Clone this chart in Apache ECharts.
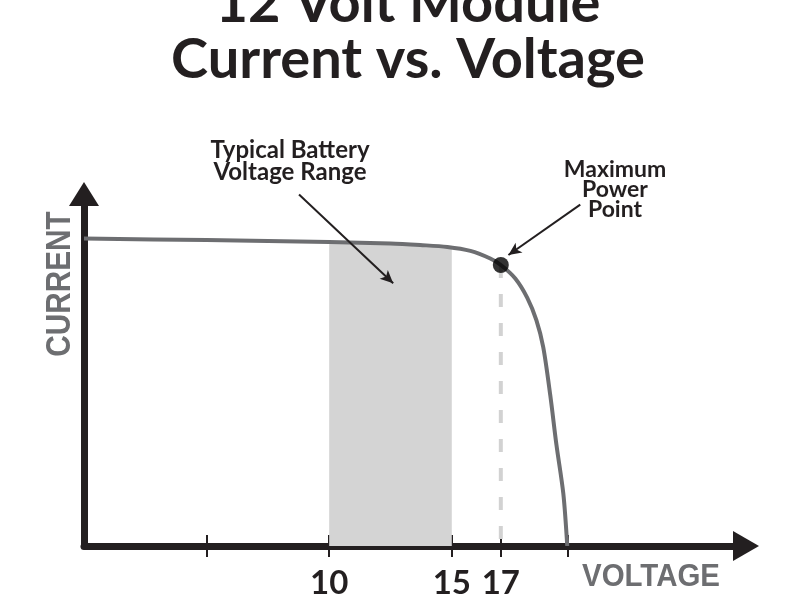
<!DOCTYPE html>
<html>
<head>
<meta charset="utf-8">
<script src="https://cdn.jsdelivr.net/npm/echarts@6/dist/echarts.min.js"></script>
<style>html,body{margin:0;padding:0;background:#fff}#c{width:800px;height:600px}</style>
</head>
<body>
<div id="c"></div>
<script>
// Data (voltage in V, current in A)
const voltage = [0, 5, 10, 12.5, 13.71, 14.82, 15.76, 16.57, 17, 17.59, 18.08, 18.45, 18.73, 19.02, 19.27, 19.55, 19.71];
const current = [5.24, 5.215, 5.18, 5.156, 5.13, 5.098, 5.03, 4.9, 4.79, 4.56, 4.23, 3.85, 3.39, 2.56, 1.72, 0.89, 0];
const batteryRange = [10, 15];
const batteryRangeTopCurrent = [5.18, 5.09];
const mppVoltage = 17;
const mppCurrent = 4.79;
const tickValues = [5, 10, 15, 17, 19.71];
const tickLabels = [10, 15, 17];

const curve = voltage.map((v, i) => [v, current[i]]);
const shade = curve.filter(p => p[0] > batteryRange[0] && p[0] < batteryRange[1]);
shade.unshift([batteryRange[0], batteryRangeTopCurrent[0]]);
shade.push([batteryRange[1], batteryRangeTopCurrent[1]]);

const dark = '#231f20';
const grey = '#6d6e71';
const font = 'Lato';

const chart = echarts.init(document.getElementById('c'));
chart.setOption({
  animation: false,
  title: {
    text: '12 Volt Module\nCurrent vs. Voltage',
    left: 403, top: -29, textAlign: 'center',
    textStyle: { fontSize: 56, fontWeight: 'bold', fontFamily: font, lineHeight: 56, color: dark }
  },
  grid: { left: 84, right: 54, top: 194, bottom: 47 },
  xAxis: [{
    type: 'value', min: 0, max: 27,
    splitLine: { show: false },
    axisLine: { lineStyle: { color: dark, width: 7 }, symbol: ['none', 'triangle'], symbolSize: [30, 26] },
    axisTick: { show: true, inside: false, length: 11, lineStyle: { color: dark, width: 2 }, customValues: tickValues },
    axisLabel: { customValues: tickLabels, margin: 21, fontSize: 33, fontWeight: 'bold', fontFamily: font, color: dark }
  }, {
    type: 'value', min: 0, max: 27, position: 'bottom',
    splitLine: { show: false },
    axisLine: { show: false },
    axisTick: { show: true, inside: true, length: 11, lineStyle: { color: dark, width: 2 }, customValues: tickValues },
    axisLabel: { show: false }
  }],
  yAxis: {
    type: 'value', min: 0, max: 6,
    splitLine: { show: false },
    axisLine: { lineStyle: { color: dark, width: 7 }, symbol: ['none', 'triangle'], symbolSize: [30, 24] },
    axisTick: { show: false },
    axisLabel: { show: false }
  },
  graphic: [
    { type: 'text', x: 290, y: 161, style: { text: 'Typical Battery\nVoltage Range', font: 'bold 24px ' + font, fill: dark, align: 'center', verticalAlign: 'middle', lineHeight: 22 } },
    { type: 'text', x: 615, y: 190, style: { text: 'Maximum\nPower\nPoint', font: 'bold 23px ' + font, fill: dark, align: 'center', verticalAlign: 'middle', lineHeight: 20 } },
    { type: 'text', x: 60, y: 284, rotation: Math.PI / 2, scaleX: 0.85, style: { text: 'CURRENT', font: 'bold 35px "Liberation Sans"', fill: grey, align: 'center', verticalAlign: 'middle' } },
    { type: 'text', x: 651, y: 577, scaleX: 0.95, style: { text: 'VOLTAGE', font: 'bold 31px "Liberation Sans"', fill: grey, align: 'center', verticalAlign: 'middle' } }
  ],
  series: [
    {
      type: 'line', data: shade, symbol: 'none', smooth: 0.3, z: 1,
      lineStyle: { width: 0 }, areaStyle: { color: '#d4d4d4', opacity: 1 }
    },
    {
      type: 'line', data: [[mppVoltage, mppCurrent], [mppVoltage, 0]], symbol: 'none', z: 2,
      lineStyle: { color: '#d2d2d2', width: 4, type: [13, 16] }
    },
    {
      type: 'line', data: curve, symbol: 'none', smooth: 0.3, z: 3,
      lineStyle: { color: grey, width: 4 },
      markLine: {
        silent: true, symbol: ['none', 'arrow'], symbolSize: [9, 13],
        lineStyle: { color: dark, width: 2, type: 'solid' }, label: { show: false },
        data: [
          [{ coord: [8.77, 5.99] }, { coord: [12.61, 4.48] }],
          [{ coord: [20.24, 5.82] }, { coord: [17.31, 4.96] }]
        ]
      }
    },
    {
      type: 'scatter', data: [[mppVoltage, mppCurrent]], symbolSize: 16, z: 4,
      itemStyle: { color: '#000' }
    }
  ]
});
</script>
</body>
</html>
